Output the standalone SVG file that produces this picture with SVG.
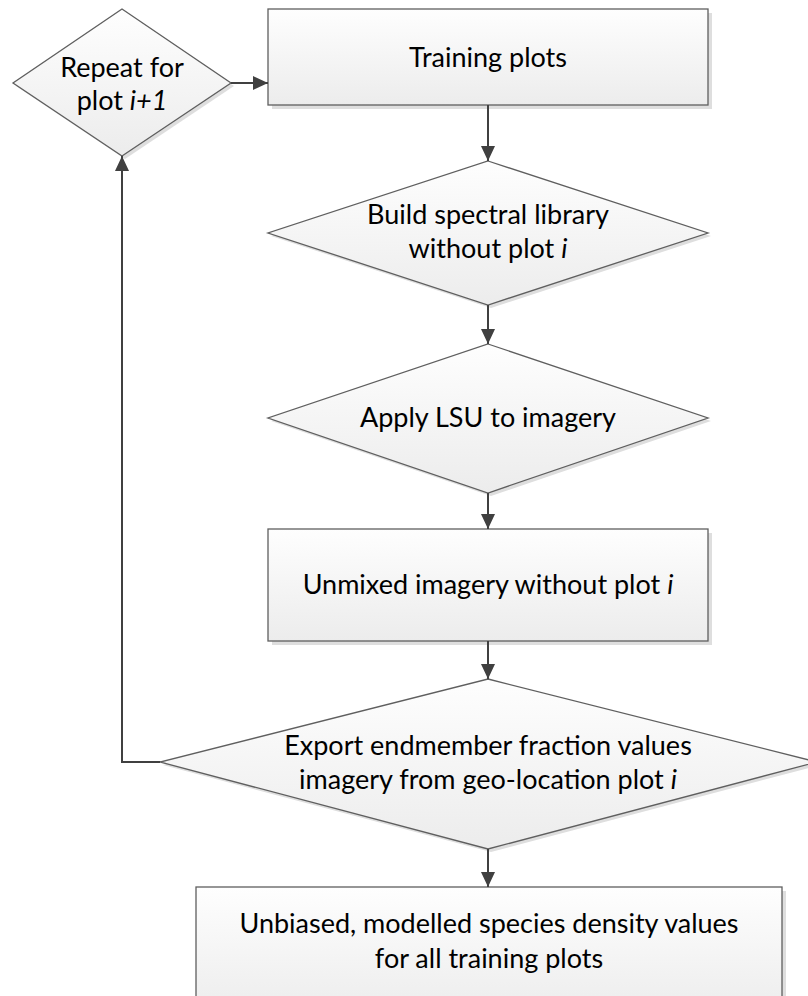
<svg xmlns="http://www.w3.org/2000/svg" width="808" height="996" viewBox="0 0 808 996">
<style>
  .shape { fill: url(#g); stroke: #5f5f5f; stroke-width: 1.3; }
  .shadow { fill: #dedede; }
  .lbl { font-family: Lato, "Liberation Sans", sans-serif; font-size: 27px; fill: #000; text-anchor: middle; }
  .it { font-style: italic; }
  .conn { fill: none; stroke: #404040; stroke-width: 2; }
</style>
<defs>
  <linearGradient id="g" x1="0" y1="0" x2="0" y2="1">
    <stop offset="0" stop-color="#fefefe"/>
    <stop offset="1" stop-color="#ececec"/>
  </linearGradient>
  <marker id="arr" markerUnits="userSpaceOnUse" markerWidth="16" markerHeight="16" refX="15" refY="7" orient="auto">
    <path d="M0,0 L15,7 L0,14 Z" fill="#404040"/>
  </marker>
</defs>
<rect width="808" height="996" fill="#fff"/>

<g id="repeat">
  <polygon class="shadow" points="125,12 234,86 125,159 16,86"/>
  <polygon class="shape" points="122,9 231,83 122,156 13,83"/>
  <text class="lbl" x="122" y="77">Repeat for</text>
  <text class="lbl" x="122" y="110">plot <tspan class="it">i+1</tspan></text>
</g>

<g id="training">
  <rect class="shadow" x="272" y="13" width="440" height="96"/>
  <rect class="shape" x="268" y="9" width="440" height="96"/>
  <text class="lbl" x="488" y="67">Training plots</text>
</g>

<g id="build">
  <polygon class="shadow" points="491,164 711,236 491,308 271,236"/>
  <polygon class="shape" points="488,161 708,233 488,305 268,233"/>
  <text class="lbl" x="488" y="224">Build spectral library</text>
  <text class="lbl" x="488" y="258">without plot <tspan class="it">i</tspan></text>
</g>

<g id="apply">
  <polygon class="shadow" points="491,347 711,421 491,496 271,421"/>
  <polygon class="shape" points="488,344 708,418 488,493 268,418"/>
  <text class="lbl" x="488" y="427">Apply LSU to imagery</text>
</g>

<g id="unmixed">
  <rect class="shadow" x="272" y="533" width="440" height="112"/>
  <rect class="shape" x="268" y="529" width="440" height="112"/>
  <text class="lbl" x="488" y="594">Unmixed imagery without plot <tspan class="it">i</tspan></text>
</g>

<g id="export">
  <polygon class="shadow" points="491,682 820,765 491,852 163,765"/>
  <polygon class="shape" points="488,679 817,762 488,849 160,762"/>
  <text class="lbl" x="488" y="755">Export endmember fraction values</text>
  <text class="lbl" x="488" y="789">imagery from geo-location plot <tspan class="it">i</tspan></text>
</g>

<g id="final">
  <rect class="shadow" x="200" y="891" width="586" height="130"/>
  <rect class="shape" x="196" y="887" width="586" height="130"/>
  <text class="lbl" x="489" y="933">Unbiased, modelled species density values</text>
  <text class="lbl" x="489" y="968">for all training plots</text>
</g>

<g id="connectors">
  <path class="conn" d="M231,83 H268" marker-end="url(#arr)"/>
  <path class="conn" d="M488,105 V161" marker-end="url(#arr)"/>
  <path class="conn" d="M488,305 V344" marker-end="url(#arr)"/>
  <path class="conn" d="M488,493 V529" marker-end="url(#arr)"/>
  <path class="conn" d="M488,641 V679" marker-end="url(#arr)"/>
  <path class="conn" d="M488,849 V887" marker-end="url(#arr)"/>
  <path class="conn" d="M160,762 H122 V156" marker-end="url(#arr)"/>
</g>
</svg>
